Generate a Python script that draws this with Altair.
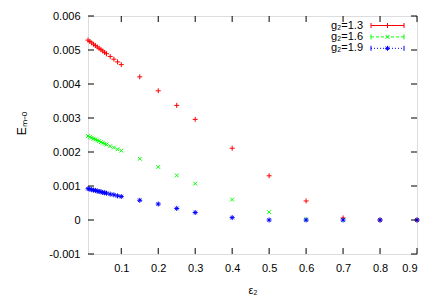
import altair as alt
import pandas as pd

series_names = ["g₂=1.3", "g₂=1.6", "g₂=1.9"]
series_colors = ["#ff0000", "#00ff00", "#0000ff"]
series_dash = [[1, 0], [3, 2], [1, 2]]

eps2 = [0.01, 0.015, 0.02, 0.025, 0.03, 0.035, 0.04, 0.045, 0.05, 0.055, 0.06,
        0.07, 0.08, 0.09, 0.1,
        0.15, 0.2, 0.25, 0.3, 0.4, 0.5, 0.6, 0.7, 0.8, 0.9]

e_g13 = [0.00529, 0.00525, 0.00521, 0.00517, 0.00513, 0.00509, 0.00505, 0.00501, 0.00497, 0.00493, 0.00489,
         0.00481, 0.00473, 0.00465, 0.00457,
         0.00421, 0.00380, 0.00337, 0.00296, 0.00211, 0.00130, 0.00056, 0.00006, 0.0, 0.0]
e_g16 = [0.00247, 0.00244, 0.00242, 0.00239, 0.00237, 0.00234, 0.00232, 0.00229, 0.00227, 0.00224, 0.00222,
         0.00217, 0.00213, 0.00208, 0.00204,
         0.00180, 0.00156, 0.00131, 0.00107, 0.00060, 0.00023, 0.00002, 0.0, 0.0, 0.0]
e_g19 = [0.00092, 0.00091, 0.00089, 0.00088, 0.00087, 0.00085, 0.00084, 0.00083, 0.00081, 0.00080, 0.00079,
         0.00076, 0.00074, 0.00071, 0.00069,
         0.00058, 0.00047, 0.00034, 0.00022, 0.00007, 0.0, 0.0, 0.0, 0.0, 0.0]

x_ticks = [0.1, 0.2, 0.3, 0.4, 0.5, 0.6, 0.7, 0.8, 0.9]
y_ticks = [-0.001, 0.0, 0.001, 0.002, 0.003, 0.004, 0.005, 0.006]

rows = []
for name, vals in zip(series_names, [e_g13, e_g16, e_g19]):
    for x, y in zip(eps2, vals):
        rows.append({"series": name, "eps": x, "E": y})
df = pd.DataFrame(rows)
xt_df = pd.DataFrame({"eps": x_ticks})
yt_df = pd.DataFrame({"E": y_ticks})

marker_paths = [
    "M-1,0L1,0M0,-1L0,1",
    "M-0.75,-0.75L0.75,0.75M-0.75,0.75L0.75,-0.75",
    "M-1,0L1,0M0,-1L0,1M-0.7,-0.7L0.7,0.7M-0.7,0.7L0.7,-0.7",
]

FONT = "Liberation Sans"
W, H = 329, 238
TICK = 6

x_scale = alt.Scale(domain=[0.01, 0.9], nice=False, zero=False)
y_scale = alt.Scale(domain=[-0.001, 0.006], nice=False, zero=False)
color_scale = alt.Scale(domain=series_names, range=series_colors)
shape_scale = alt.Scale(domain=series_names, range=marker_paths)

# --- data points with labelled axes (bottom / left)
points = alt.Chart(df).mark_point(filled=False, size=25, strokeWidth=1, opacity=1).encode(
    x=alt.X("eps:Q", scale=x_scale, axis=alt.Axis(
        orient="bottom", values=x_ticks, format=".1f", title="ε₂", domain=False,
        ticks=False, labelPadding=8, grid=False,
        labelFont=FONT, labelFontSize=11, labelColor="black",
        titleFont=FONT, titleFontSize=11, titleFontWeight="normal", titleColor="black",
        titleY=36, titleBaseline="middle",
    )),
    y=alt.Y("E:Q", scale=y_scale, axis=alt.Axis(
        orient="left", values=y_ticks, title="Eₘ₋ₒ", domain=False,
        labelExpr="datum.value < 0 ? '-' + format(-datum.value, '.3~f') : format(datum.value, '.3~f')",
        ticks=False, labelPadding=8, grid=False,
        labelFont=FONT, labelFontSize=11, labelColor="black",
        titleFont=FONT, titleFontSize=12, titleFontWeight="normal", titleColor="black",
        titleX=-67, titleY=H / 2 - 12, titleBaseline="middle", titleAlign="center", titleAngle=-90,
    )),
    color=alt.Color("series:N", scale=color_scale, legend=None),
    shape=alt.Shape("series:N", scale=shape_scale, legend=None),
)

# --- inward ticks on all four sides, placed by the x / y scales
xt_bottom = alt.Chart(xt_df).mark_rule(color="black", strokeWidth=1).encode(
    x=alt.X("eps:Q", scale=x_scale, axis=None), y=alt.value(H), y2=alt.value(H - TICK))
xt_top = alt.Chart(xt_df).mark_rule(color="black", strokeWidth=1).encode(
    x=alt.X("eps:Q", scale=x_scale, axis=None), y=alt.value(0), y2=alt.value(TICK))
yt_left = alt.Chart(yt_df).mark_rule(color="black", strokeWidth=1).encode(
    y=alt.Y("E:Q", scale=y_scale, axis=None), x=alt.value(0), x2=alt.value(TICK))
yt_right = alt.Chart(yt_df).mark_rule(color="black", strokeWidth=1).encode(
    y=alt.Y("E:Q", scale=y_scale, axis=None), x=alt.value(W), x2=alt.value(W - TICK))

# --- key (top right, gnuplot style: label, then sample line with caps and marker)
key_layers = []
key_text_x, key_x0, key_x1 = 275, 283, 316
for i, (name, col, dash, path) in enumerate(zip(series_names, series_colors, series_dash, marker_paths)):
    ky = 9.5 + 11.4 * i
    kdf = pd.DataFrame({"series": [name]})
    key_layers.append(alt.Chart(kdf).mark_text(
        align="right", baseline="middle", font=FONT, fontSize=11, color="black"
    ).encode(x=alt.value(key_text_x), y=alt.value(ky), text="series:N"))
    key_layers.append(alt.Chart(kdf).mark_rule(color=col, strokeWidth=1, strokeDash=dash).encode(
        x=alt.value(key_x0), x2=alt.value(key_x1), y=alt.value(ky)))
    for cx in (key_x0, key_x1):
        key_layers.append(alt.Chart(kdf).mark_rule(color=col, strokeWidth=1).encode(
            x=alt.value(cx), y=alt.value(ky - 2.5), y2=alt.value(ky + 2.5)))
    key_layers.append(alt.Chart(kdf).mark_point(
        filled=False, size=25, strokeWidth=1, opacity=1, color=col, shape=path
    ).encode(x=alt.value((key_x0 + key_x1) / 2), y=alt.value(ky)))

chart = alt.layer(points, xt_bottom, xt_top, yt_left, yt_right, *key_layers).resolve_axis(
    x="independent", y="independent"
).properties(
    width=W, height=H,
    autosize=alt.AutoSizeParams(type="none"),
    padding={"left": 80, "top": 8, "right": 11, "bottom": 43},
).configure_view(stroke="black", strokeWidth=1).configure(background="white")

chart.save("out.html", embed_options={"renderer": "svg", "actions": False})
